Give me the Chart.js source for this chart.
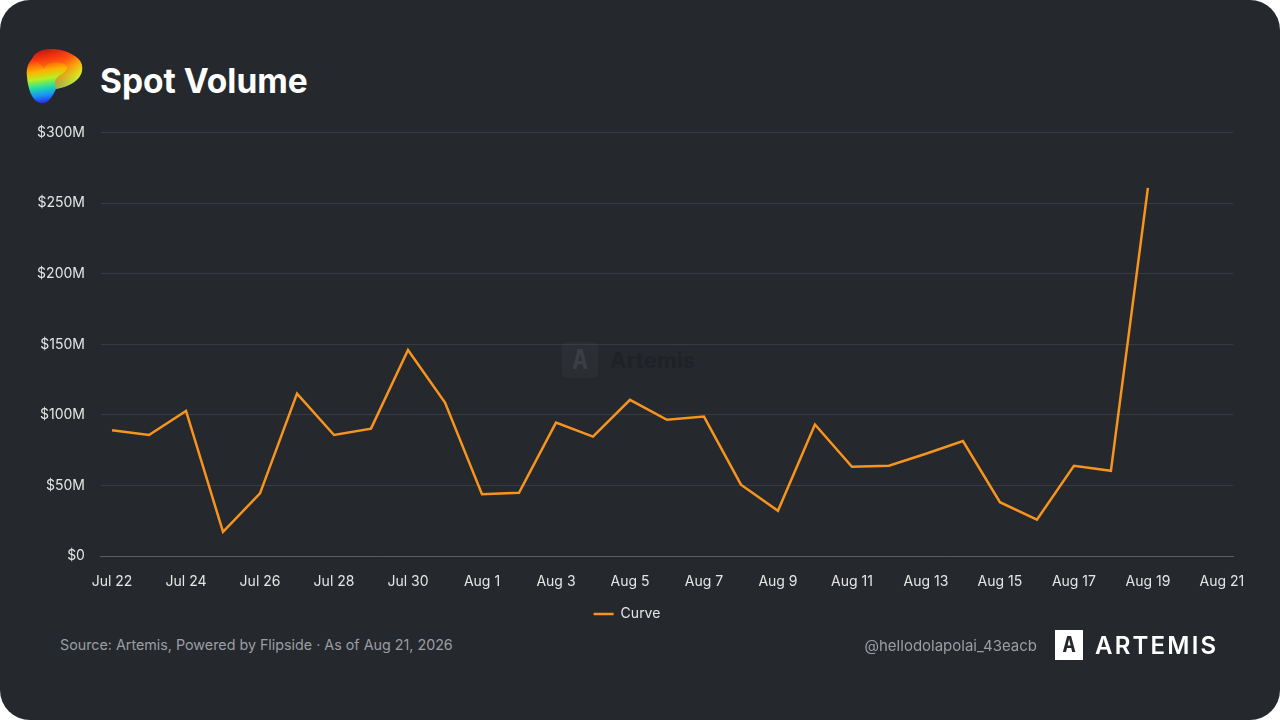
<!DOCTYPE html>
<html>
<head>
<meta charset="utf-8">
<script src="https://cdn.jsdelivr.net/npm/chart.js@4.4.1/dist/chart.umd.min.js"></script>
<style>
    body { margin: 0; background: #ffffff; width: 1280px; height: 720px; overflow: hidden; font-family: Inter, "Noto Sans", sans-serif; }
    #card { position: absolute; left: 0; top: 0; width: 1280px; height: 720px; background: #25282d; border-radius: 30px; overflow: hidden; }
    #logo { position: absolute; left: 24px; top: 45px; width: 62px; height: 62px; }
    #title { position: absolute; left: 100px; top: 61px; color: #ffffff; font-size: 33.5px; font-weight: 700; }
    #wrap { position: absolute; left: 20px; top: 108px; width: 1242px; height: 523px; }
    #watermark { position: absolute; left: 562px; top: 342px; display: flex; align-items: center; gap: 12px; color: #1f2226; font-size: 22px; font-weight: 700; }
    #watermark .box { width: 36px; height: 36px; border-radius: 5px; background: #2b2e33; color: #3b3e44; font-size: 26px; text-align: center; line-height: 36px; font-family: "DejaVu Sans Mono", monospace; }
    #source { position: absolute; left: 60px; top: 636px; color: #9b9ea3; font-size: 14.3px; }
    #handle { position: absolute; right: 243px; top: 636px; color: #9b9ea3; font-size: 15px; }
    #brand { position: absolute; left: 1055px; top: 630px; display: flex; align-items: center; gap: 12px; color: #ffffff; font-size: 24px; font-weight: 600; letter-spacing: 2.2px; }
    #brand .box { width: 28px; height: 30px; background: #ffffff; color: #25282d; font-size: 22px; font-weight: 800; text-align: center; line-height: 30px; letter-spacing: 0; font-family: "DejaVu Sans Mono", monospace; }
</style>
</head>
<body>
<div id="card">
    <svg id="logo" viewBox="0 0 62 62">
        <defs>
            <linearGradient id="rb" x1="0.2" y1="0" x2="0.35" y2="1">
                <stop offset="0" stop-color="#b01010"/>
                <stop offset="0.2" stop-color="#ff3a10"/>
                <stop offset="0.4" stop-color="#ffb000"/>
                <stop offset="0.55" stop-color="#b8ef20"/>
                <stop offset="0.7" stop-color="#20e0a0"/>
                <stop offset="0.85" stop-color="#1890ff"/>
                <stop offset="1" stop-color="#3020e0"/>
            </linearGradient>
            <linearGradient id="rb2" x1="0" y1="0" x2="1" y2="0.6">
                <stop offset="0" stop-color="#d01810" stop-opacity="0"/>
                <stop offset="0.6" stop-color="#ff5010" stop-opacity="0.6"/>
                <stop offset="1" stop-color="#e8f020" stop-opacity="0.8"/>
            </linearGradient>
        </defs>
        <path d="M8 14 C12 4 26 2 40 6 C52 10 60 16 58 26 C56 36 44 42 32 44 C28 52 24 60 16 58 C8 56 4 44 3 32 C2 24 4 18 8 14 Z" fill="url(#rb)"/>
        <path d="M8 14 C12 4 26 2 40 6 C52 10 60 16 58 26 C56 36 44 42 32 44 C30 40 30 34 36 30 C44 26 46 20 38 18 C30 16 22 18 20 24 C16 18 12 16 8 14 Z" fill="url(#rb2)"/>
    </svg>
    <div id="title">Spot Volume</div>
    <div id="watermark"><div class="box">A</div><span>Artemis</span></div>
    <div id="wrap"><canvas id="spotChart"></canvas></div>
    <div id="source">Source: Artemis, Powered by Flipside · As of Aug 21, 2026</div>
    <div id="handle">@hellodolapolai_43eacb</div>
    <div id="brand"><div class="box">A</div><span>ARTEMIS</span></div>
</div>
<script>
const dayLabels = ['Jul 22', 'Jul 23', 'Jul 24', 'Jul 25', 'Jul 26', 'Jul 27', 'Jul 28', 'Jul 29', 'Jul 30', 'Jul 31',
    'Aug 1', 'Aug 2', 'Aug 3', 'Aug 4', 'Aug 5', 'Aug 6', 'Aug 7', 'Aug 8', 'Aug 9', 'Aug 10',
    'Aug 11', 'Aug 12', 'Aug 13', 'Aug 14', 'Aug 15', 'Aug 16', 'Aug 17', 'Aug 18', 'Aug 19', 'Aug 20', 'Aug 21'];

// spot volume, millions of USD
const curveVolume = [89.2, 85.8, 102.8, 17.2, 44.5, 115.1, 85.8, 90.3, 145.9, 108.7,
    43.8, 44.9, 94.6, 84.7, 110.7, 96.6, 98.8, 50.6, 32.1, 93.2,
    63.3, 64.0, 72.5, 81.5, 38.2, 25.9, 64.0, 60.5, 260.7];

const yTicks = [0, 50, 100, 150, 200, 250, 300];

function setupChart() {
    const ctx = document.getElementById('spotChart');
    const points = curveVolume.map((v, i) => ({x: i, y: v}));

    return new Chart(ctx, {
        type: 'line',
        data: {
            datasets: [{
                label: 'Curve',
                data: points,
                borderColor: '#f7941d',
                backgroundColor: '#f7941d',
                borderWidth: 2.5,
                pointRadius: 0,
                tension: 0
            }]
        },
        options: {
            responsive: true,
            maintainAspectRatio: false,
            animation: false,
            layout: {
                padding: {left: 1, right: 29, top: 14, bottom: 0}
            },
            plugins: {
                legend: {
                    position: 'bottom',
                    labels: {
                        color: '#e6e6e6',
                        font: {family: 'Inter', size: 14},
                        usePointStyle: true,
                        pointStyle: 'line',
                        pointStyleWidth: 20,
                        padding: 0
                    }
                },
                tooltip: {enabled: false}
            },
            scales: {
                x: {
                    type: 'linear',
                    min: -0.3,
                    max: 30.3,
                    grid: {display: false, drawTicks: false},
                    border: {color: '#5b5e63', width: 1},
                    afterBuildTicks: (axis) => {
                        axis.ticks = dayLabels.map((_, i) => ({value: i})).filter((t) => t.value % 2 === 0);
                    },
                    ticks: {
                        color: '#e6e6e6',
                        font: {family: 'Inter', size: 14},
                        padding: 17,
                        maxRotation: 0,
                        autoSkip: false,
                        callback: (v) => dayLabels[v]
                    }
                },
                y: {
                    min: 0,
                    max: 300,
                    grid: {color: '#383b41', drawTicks: false},
                    border: {display: false},
                    afterBuildTicks: (axis) => {
                        axis.ticks = yTicks.map((v) => ({value: v}));
                    },
                    ticks: {
                        color: '#e6e6e6',
                        font: {family: 'Inter', size: 14},
                        padding: 16,
                        callback: (v) => v === 0 ? '$0' : '$' + v + 'M'
                    }
                }
            }
        }
    });
}

setupChart();
</script>
</body>
</html>
